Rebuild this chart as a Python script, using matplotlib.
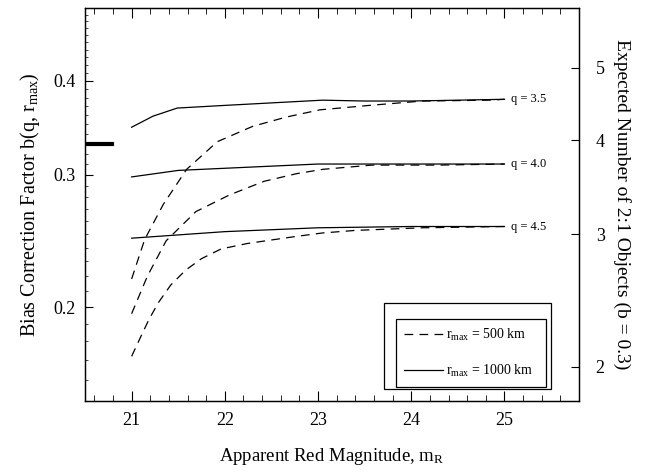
import numpy as np
import matplotlib
matplotlib.use("Agg")
import matplotlib.pyplot as plt
from matplotlib.patches import Rectangle
from matplotlib.ticker import FixedLocator, NullFormatter, NullLocator

plt.rcParams["font.family"] = ["Liberation Serif", "DejaVu Serif"]
plt.rcParams["mathtext.fontset"] = "custom"
plt.rcParams["mathtext.rm"] = "Liberation Serif"
plt.rcParams["mathtext.it"] = "Liberation Serif:italic"

# apparent red magnitude grid
mag_35_solid = [21.0, 21.23, 21.49, 22.0, 22.7, 23.05, 23.5, 24.0, 24.5, 25.0]
b_35_solid = [0.347, 0.359, 0.368, 0.371, 0.375, 0.377, 0.376, 0.376, 0.377, 0.378]

mag_40_solid = [21.0, 21.5, 22.0, 22.5, 23.0, 24.0, 25.0]
b_40_solid = [0.298, 0.304, 0.306, 0.308, 0.310, 0.310, 0.310]

mag_45_solid = [21.0, 22.0, 23.0, 24.0, 25.0]
b_45_solid = [0.247, 0.252, 0.255, 0.256, 0.256]

mag_35_dash = [21.0, 21.14, 21.34, 21.59, 21.92, 22.30, 22.66, 23.02, 23.55, 24.12, 24.84, 25.0]
b_35_dash = [0.218, 0.246, 0.274, 0.305, 0.332, 0.348, 0.358, 0.366, 0.371, 0.376, 0.377, 0.378]

mag_40_dash = [21.0, 21.17, 21.37, 21.69, 22.05, 22.42, 22.77, 23.05, 23.58, 24.30, 25.0]
b_40_dash = [0.196, 0.220, 0.245, 0.268, 0.282, 0.294, 0.301, 0.305, 0.309, 0.309, 0.310]

mag_45_dash = [21.0, 21.11, 21.19, 21.29, 21.42, 21.58, 21.75, 21.96, 22.24, 22.73,
               23.05, 23.41, 23.77, 24.12, 25.0]
b_45_dash = [0.172, 0.184, 0.193, 0.203, 0.214, 0.224, 0.232, 0.239, 0.243, 0.248,
             0.251, 0.253, 0.254, 0.255, 0.256]

q_labels = ["q = 3.5", "q = 4.0", "q = 4.5"]
b_marker = 0.33           # thick bar on the left axis
n_per_b = 12.0            # right axis: expected number = 12 * b

fig = plt.figure(figsize=(6.52, 4.76), dpi=100)
ax = fig.add_axes([0.1304, 0.1576, 0.7577, 0.8256])

dash = (0, (7, 5))
for m, b in [(mag_35_solid, b_35_solid), (mag_40_solid, b_40_solid), (mag_45_solid, b_45_solid)]:
    ax.plot(m, b, color="black", lw=0.9)
for m, b in [(mag_35_dash, b_35_dash), (mag_40_dash, b_40_dash), (mag_45_dash, b_45_dash)]:
    ax.plot(m, b, color="black", lw=0.9, linestyle=dash)

for lab, b in zip(q_labels, [b_35_solid, b_40_solid, b_45_solid]):
    ax.text(25.07, b[-1], lab, fontsize=9, va="center", ha="left")

ax.axhline(b_marker, xmin=0, xmax=0.055, color="black", lw=3)

ax.set_yscale("log")
ax.set_xlim(20.5, 25.8)
ax.set_ylim(0.15, 0.5)
ax.yaxis.set_major_locator(FixedLocator([0.2, 0.3, 0.4]))
ax.yaxis.set_minor_locator(FixedLocator(np.arange(0.15, 0.5, 0.01)))
ax.yaxis.set_minor_formatter(NullFormatter())
ax.set_yticklabels(["0.2", "0.3", "0.4"])
ax.set_xticks([21, 22, 23, 24, 25])
ax.xaxis.set_minor_locator(FixedLocator(np.arange(20.6, 25.8, 0.2)))

ax.tick_params(axis="both", which="both", direction="in", top=True, labelsize=13)
ax.tick_params(axis="x", which="major", length=7, pad=8)
ax.tick_params(axis="x", which="minor", length=4)
ax.tick_params(axis="y", which="major", length=6, pad=7, right=False)
ax.tick_params(axis="y", which="minor", length=2, width=0.5, right=False)

ax.set_xlabel("Apparent Red Magnitude, m$_{\\mathrm{R}}$", fontsize=13.5, labelpad=12)
ax.set_ylabel("Bias Correction Factor b(q, r$_{\\mathrm{max}}$)", fontsize=14.5, labelpad=8)

ax2 = ax.twinx()
ax2.set_yscale("log")
ax2.set_ylim(0.15 * n_per_b, 0.5 * n_per_b)
ax2.yaxis.set_major_locator(FixedLocator([2, 3, 4, 5]))
ax2.yaxis.set_minor_locator(NullLocator())
ax2.set_yticklabels(["2", "3", "4", "5"])
ax2.tick_params(axis="y", direction="in", length=6, pad=12, labelsize=13)
ax2.set_ylabel("Expected Number of 2:1 Objects (b = 0.3)", fontsize=14,
               rotation=270, labelpad=19)

for sp in list(ax.spines.values()) + list(ax2.spines.values()):
    sp.set_linewidth(0.9)

h1, = ax.plot([], [], color="black", lw=0.9, linestyle=dash)
h2, = ax.plot([], [], color="black", lw=0.9)
leg = ax.legend([h1, h2], ["r$_{\\mathrm{max}}$ = 500 km", "r$_{\\mathrm{max}}$ = 1000 km"],
                loc="lower left", bbox_to_anchor=(0.630, 0.036, 0.303, 0.178),
                mode="expand", borderaxespad=0, fontsize=10, labelspacing=1.45,
                handlelength=2.8, handletextpad=0.2, borderpad=0.55, fancybox=False,
                framealpha=1, edgecolor="black")
leg.get_frame().set_linewidth(0.9)

# outer box around the key
ax.add_patch(Rectangle((0.605, 0.030), 0.338, 0.219, transform=ax.transAxes,
                       fill=False, lw=0.9, edgecolor="black", zorder=3))

fig.savefig("out.png", dpi=100)
